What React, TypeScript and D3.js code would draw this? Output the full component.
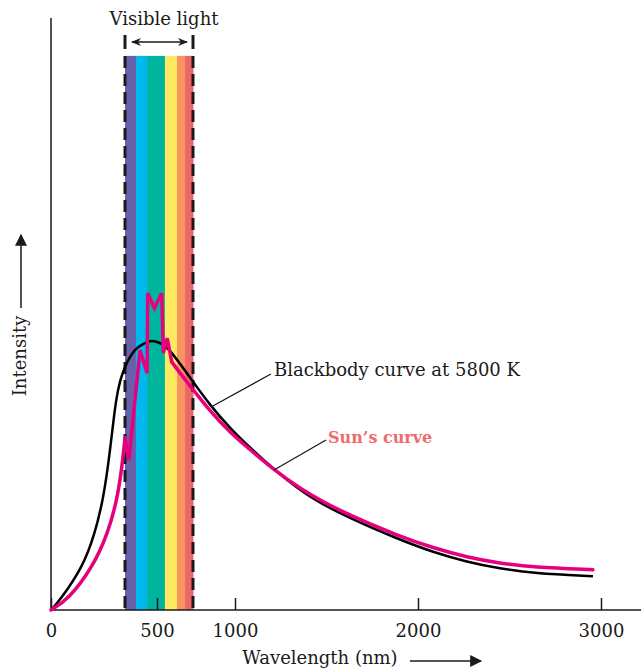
import React, { useEffect, useRef } from "react";
import * as d3 from "d3";

// wavelength (nm) -> intensity (arbitrary units, 0..100)
const blackbody: [number, number][] = [
  [0, 0], [50, 1.7], [173, 7.3], [238, 13.0], [281, 18.6], [308, 24.2],
  [330, 29.9], [351, 35.5], [373, 38.8], [400, 41.2], [421, 43.3], [438, 44.4],
  [472, 45.4], [490, 45.5], [528, 45.0], [572, 43.9], [628, 41.6], [683, 39.3],
  [821, 34.6], [964, 30.7], [1082, 27.4], [1208, 23.9], [1355, 20.2],
  [1519, 17.0], [1902, 11.8], [2082, 9.8], [2268, 8.1], [2448, 7.0],
  [2628, 6.2], [2956, 5.7]
];

const sunRise: [number, number][] = [
  [0, 0], [92, 1.7], [227, 7.3], [308, 13.0], [357, 18.6], [384, 24.2], [400, 29.1]
];

const sunSpikes: [number, number][] = [
  [400, 29.1], [412, 25.3], [447, 43.9], [469, 40.0], [471, 53.5], [492, 51.0],
  [526, 53.5], [535, 43.4], [557, 45.9], [582, 41.9]
];

const sunTail: [number, number][] = [
  [582, 41.9], [628, 40.0], [683, 37.9], [821, 33.6], [964, 30.0], [1082, 27.1],
  [1208, 23.8], [1355, 20.5], [1557, 16.9], [1902, 12.4], [2082, 10.5],
  [2268, 8.9], [2448, 7.9], [2628, 7.2], [2956, 6.8]
];

const xTicks = [0, 500, 1000, 2000, 3000];
const visibleRange = [400, 700];
const bandEdges = [400, 434, 469, 544, 611, 656, 700];
const bandColors = ["#6661a9", "#00b7ee", "#00b59e", "#ffe961", "#f7945f", "#ef6667"];
const bandTop = 93.6;

export default function App() {
  const refElement = useRef<HTMLDivElement>(null);

  useEffect(() => {
    const el = refElement.current;
    if (!el) return;

    const width = 641, height = 670;
    const font = "'DejaVu Serif', serif";
    const ink = "#1a1a1a";

    // the printed axis is not uniform around the visible band
    const xScale = d3
      .scaleLinear()
      .domain([0, 400, 500, 700, 1000, 3000])
      .range([51, 125, 157, 193, 235, 601]);

    const yScale = d3.scaleLinear().domain([0, 100]).range([610, 18]);

    const svg = d3
      .select(el)
      .append("svg")
      .attr("width", width)
      .attr("height", height)
      .style("position", "absolute")
      .style("left", "0px")
      .style("top", "0px")
      .style("font-family", font);

    // spectrum band
    svg
      .selectAll("rect.band")
      .data(bandColors)
      .enter()
      .append("rect")
      .attr("class", "band")
      .attr("x", (d, i) => xScale(bandEdges[i]))
      .attr("width", (d, i) => xScale(bandEdges[i + 1]) - xScale(bandEdges[i]) + 0.5)
      .attr("y", yScale(bandTop))
      .attr("height", yScale(0) - yScale(bandTop))
      .attr("fill", d => d);

    // dashed limits
    svg
      .selectAll("line.limit")
      .data(visibleRange)
      .enter()
      .append("line")
      .attr("x1", d => xScale(d))
      .attr("x2", d => xScale(d))
      .attr("y1", yScale(bandTop))
      .attr("y2", yScale(0))
      .attr("stroke", ink)
      .attr("stroke-width", 3)
      .attr("stroke-dasharray", "12,6");

    // short bars + double arrow above the band
    svg
      .selectAll("line.bar")
      .data(visibleRange)
      .enter()
      .append("line")
      .attr("x1", d => xScale(d))
      .attr("x2", d => xScale(d))
      .attr("y1", 35)
      .attr("y2", 49)
      .attr("stroke", ink)
      .attr("stroke-width", 3);

    const defs = svg.append("defs");
    defs
      .append("marker")
      .attr("id", "head")
      .attr("viewBox", "0 0 10 10")
      .attr("refX", 9)
      .attr("refY", 5)
      .attr("markerWidth", 10)
      .attr("markerHeight", 10)
      .attr("markerUnits", "userSpaceOnUse")
      .attr("orient", "auto-start-reverse")
      .append("path")
      .attr("d", "M0,1 L10,5 L0,9 L3,5 Z")
      .attr("fill", ink);

    defs
      .append("marker")
      .attr("id", "bighead")
      .attr("viewBox", "0 0 10 10")
      .attr("refX", 9)
      .attr("refY", 5)
      .attr("markerWidth", 14)
      .attr("markerHeight", 12)
      .attr("markerUnits", "userSpaceOnUse")
      .attr("orient", "auto")
      .append("path")
      .attr("d", "M0,0 L10,5 L0,10 Z")
      .attr("fill", ink);

    svg
      .append("line")
      .attr("x1", xScale(visibleRange[0]) + 7)
      .attr("x2", xScale(visibleRange[1]) - 6)
      .attr("y1", 42)
      .attr("y2", 42)
      .attr("stroke", ink)
      .attr("stroke-width", 1.5)
      .attr("marker-start", "url(#head)")
      .attr("marker-end", "url(#head)");

    svg
      .append("text")
      .attr("x", 164)
      .attr("y", 25)
      .attr("text-anchor", "middle")
      .attr("font-size", 18)
      .attr("fill", ink)
      .text("Visible light");

    // axes
    svg
      .append("line")
      .attr("x1", xScale(0))
      .attr("x2", xScale(0))
      .attr("y1", yScale(100))
      .attr("y2", yScale(0))
      .attr("stroke", ink)
      .attr("stroke-width", 1.5);

    svg
      .append("line")
      .attr("x1", xScale(0))
      .attr("x2", width)
      .attr("y1", yScale(0))
      .attr("y2", yScale(0))
      .attr("stroke", ink)
      .attr("stroke-width", 1.5);

    const xAxis = svg
      .append("g")
      .attr("transform", "translate(0," + yScale(0) + ")")
      .call(
        d3
          .axisBottom(xScale)
          .tickValues(xTicks)
          .tickSizeInner(-12)
          .tickSizeOuter(0)
          .tickPadding(14)
          .tickFormat(d3.format("d"))
      );
    xAxis.select(".domain").remove();
    xAxis.selectAll("line").attr("stroke", ink).attr("stroke-width", 1.5);
    xAxis
      .selectAll("text")
      .attr("font-family", font)
      .attr("font-size", 18)
      .attr("fill", ink);

    svg
      .append("text")
      .attr("x", 320)
      .attr("y", 664)
      .attr("text-anchor", "middle")
      .attr("font-size", 18)
      .attr("fill", ink)
      .text("Wavelength (nm)");

    svg
      .append("line")
      .attr("x1", 410)
      .attr("x2", 481)
      .attr("y1", 661)
      .attr("y2", 661)
      .attr("stroke", ink)
      .attr("stroke-width", 1.5)
      .attr("marker-end", "url(#bighead)");

    svg
      .append("text")
      .attr("transform", "translate(26,356) rotate(-90)")
      .attr("text-anchor", "middle")
      .attr("font-size", 18)
      .attr("fill", ink)
      .text("Intensity");

    svg
      .append("line")
      .attr("x1", 21)
      .attr("x2", 21)
      .attr("y1", 308)
      .attr("y2", 235)
      .attr("stroke", ink)
      .attr("stroke-width", 1.5)
      .attr("marker-end", "url(#bighead)");

    // curves
    const smooth = d3
      .line<[number, number]>()
      .x(d => xScale(d[0]))
      .y(d => yScale(d[1]))
      .curve(d3.curveBasis);

    const straight = d3
      .line<[number, number]>()
      .x(d => xScale(d[0]))
      .y(d => yScale(d[1]));

    svg
      .append("path")
      .datum(blackbody)
      .attr("d", smooth)
      .attr("fill", "none")
      .attr("stroke", "#000")
      .attr("stroke-width", 2.5);

    const pink = "#e6007e";
    [
      { data: sunRise, gen: smooth },
      { data: sunSpikes, gen: straight },
      { data: sunTail, gen: smooth }
    ].forEach(part => {
      svg
        .append("path")
        .datum(part.data)
        .attr("d", part.gen)
        .attr("fill", "none")
        .attr("stroke", pink)
        .attr("stroke-width", 3.5)
        .attr("stroke-linejoin", "miter")
        .attr("stroke-linecap", "round");
    });

    // labels with leader lines
    svg
      .append("line")
      .attr("x1", 211)
      .attr("y1", 407)
      .attr("x2", 271)
      .attr("y2", 374)
      .attr("stroke", ink)
      .attr("stroke-width", 1.3);
    svg
      .append("text")
      .attr("x", 274)
      .attr("y", 376)
      .attr("font-size", 18)
      .attr("fill", ink)
      .text("Blackbody curve at 5800 K");

    svg
      .append("line")
      .attr("x1", 274)
      .attr("y1", 470)
      .attr("x2", 326)
      .attr("y2", 440)
      .attr("stroke", ink)
      .attr("stroke-width", 1.3);
    svg
      .append("text")
      .attr("x", 328)
      .attr("y", 443)
      .attr("font-size", 16)
      .attr("font-weight", "bold")
      .attr("fill", "#ef6b6b")
      .text("Sun\u2019s curve");

    return () => {
      d3.select(el).select("svg").remove();
    };
  }, []);

  return <div className="chart" ref={refElement} />;
}
